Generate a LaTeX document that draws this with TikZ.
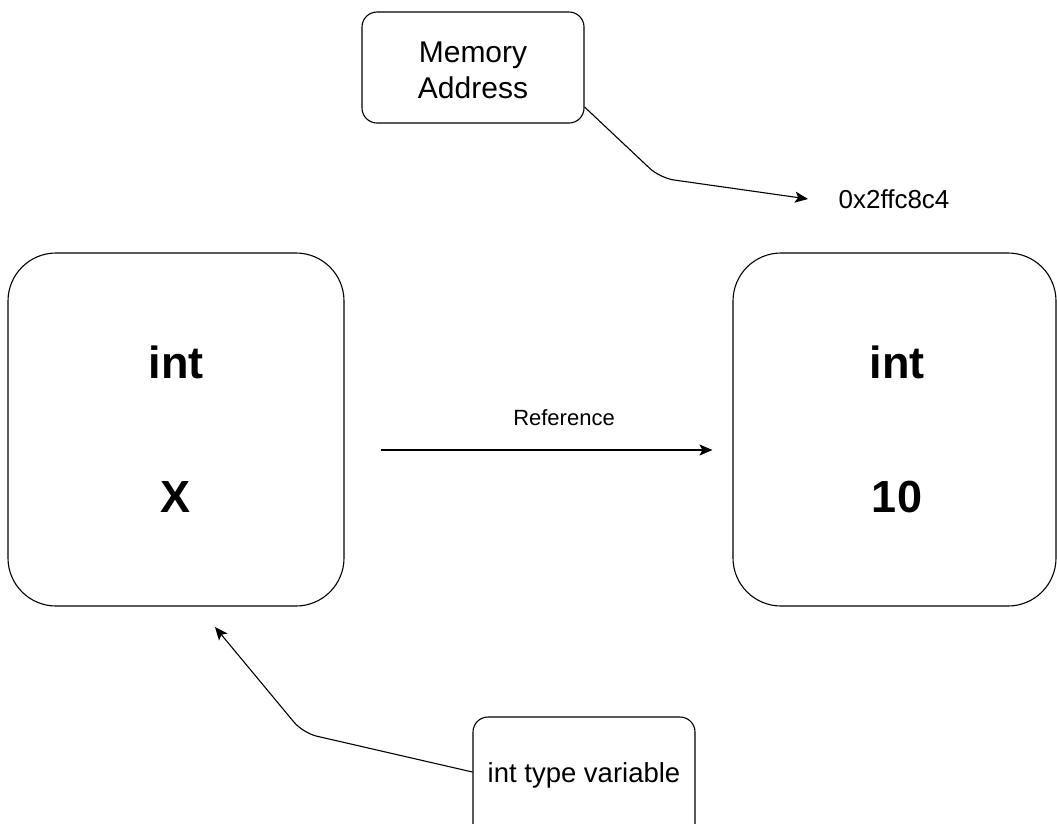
\documentclass[tikz,border=0pt]{standalone}
\usepackage{fontspec}
\setmainfont{Liberation Sans}
\usetikzlibrary{arrows.meta}
\begin{document}
\begin{tikzpicture}[x=1pt,y=-1pt,
  line width=1.1pt,
  bigbox/.style={draw, rounded corners=48pt, minimum width=336pt, minimum height=353pt, inner sep=0pt},
  smallbox/.style={draw, rounded corners=15pt, minimum width=222pt, minimum height=111pt, inner sep=0pt, align=center},
  bigtext/.style={font=\fontsize{45}{50}\selectfont\bfseries, inner sep=0pt},
  conn/.style={-{Stealth[length=13pt,width=11pt,inset=3pt]}, line width=1.1pt, rounded corners=14pt}
]
\clip (0,0) rectangle (1057,823);
\fill[white] (0,0) rectangle (1057,823);

\node[bigbox] (left) at (176,429.5) {};
\node[bigbox, minimum width=323pt] (right) at (894.5,429.5) {};
\node[bigtext] (lint) at (176,362) {int};
\node[bigtext] (lx) at (176,497) {X};
\node[bigtext] (rint) at (897,362) {int};
\node[bigtext] (rten) at (897,497) {10};

\node[smallbox] (mem) at (473,67.5) {};
\node[font=\fontsize{30}{36}\selectfont, align=center, inner sep=0pt] (memtext) at (473,70) {Memory\\Address};
\node[font=\fontsize{26}{30}\selectfont, inner sep=0pt] (addr) at (894,199) {0x2ffc8c4};
\coordinate (membend) at (660,178);
\draw[conn] (mem.east |- 0,107) -- (membend) -- ([xshift=-30pt]addr.west);

\draw[conn, rounded corners=0pt, shorten <=36pt, shorten >=20pt] (left.east |- 0,450) -- (right.west |- 0,450);
\node[font=\fontsize{22}{26}\selectfont, inner sep=0pt] (reflbl) at (564,418) {Reference};

\node[smallbox, minimum height=130pt] (var) at (584,782) {};
\node[font=\fontsize{27.5}{32}\selectfont, inner sep=0pt] (vartext) at (584,775) {int type variable};
\coordinate (varbend) at (303,733);
\coordinate (varend) at (215,627);
\draw[conn] (var.west |- 0,772) -- (varbend) -- (varend);
\end{tikzpicture}
\end{document}
